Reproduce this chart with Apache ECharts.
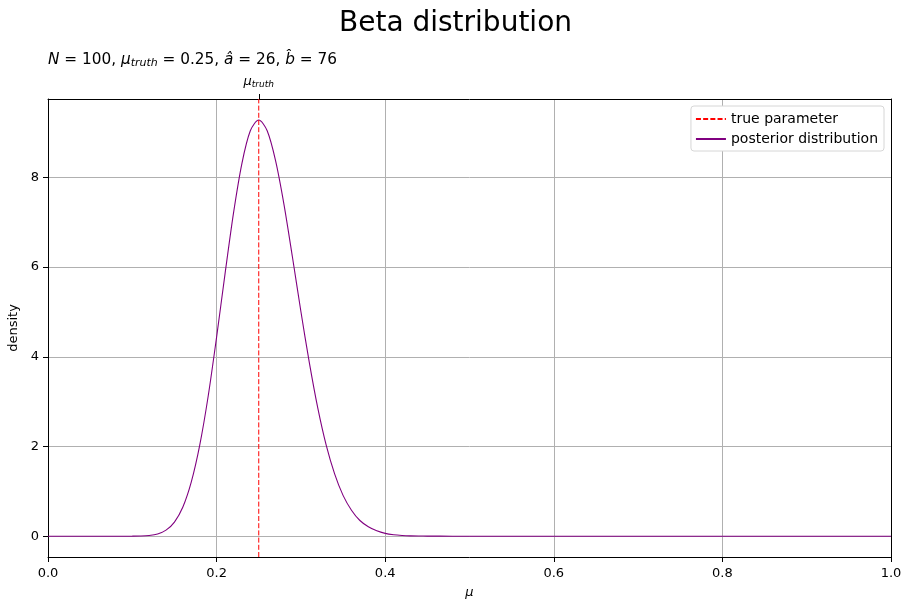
<!DOCTYPE html>
<html>
<head>
<meta charset="utf-8">
<script src="https://cdn.jsdelivr.net/npm/echarts@6/dist/echarts.min.js"></script>
<style>
  html, body { margin: 0; padding: 0; background: #fff; }
  #chart { width: 911px; height: 611px; }
</style>
</head>
<body>
<div id="chart"></div>
<script>
// values
var muValues = [0, 0.05, 0.08, 0.10, 0.11, 0.12, 0.13, 0.14, 0.15, 0.16, 0.17, 0.18, 0.19,
  0.20, 0.21, 0.22, 0.23, 0.24, 0.25, 0.26, 0.27, 0.28, 0.29, 0.30, 0.31, 0.32, 0.33,
  0.34, 0.35, 0.36, 0.37, 0.38, 0.39, 0.40, 0.41, 0.42, 0.43, 0.44, 0.45, 0.48, 0.52,
  0.6, 0.7, 0.8, 0.9, 1.0];
var densityValues = [0, 0, 0, 0.001, 0.004, 0.016, 0.05, 0.135, 0.315, 0.65, 1.21, 2.03, 3.12,
  4.44, 5.85, 7.20, 8.31, 9.04, 9.28, 9.04, 8.37, 7.39, 6.22, 5.01, 3.87, 2.86, 2.03,
  1.39, 0.91, 0.58, 0.35, 0.21, 0.12, 0.063, 0.033, 0.017, 0.008, 0.004, 0.002, 0, 0,
  0, 0, 0, 0, 0];
var muTruth = 0.25;
var yTicks = [0, 2, 4, 6, 8];
var yMin = -0.464;
var yMax = 9.749;

var chart = echarts.init(document.getElementById('chart'));
var font = 'DejaVu Sans';

var curve = muValues.map(function (m, i) { return [m, densityValues[i]]; });
var truthLine = [[muTruth, yMin], [muTruth, yMax]];

chart.setOption({
  animation: false,
  textStyle: { fontFamily: font },
  title: [{
    text: 'Beta distribution',
    left: 'center',
    top: 5,
    textStyle: { fontFamily: font, fontSize: 28, fontWeight: 'normal', color: '#000' }
  }, {
    text: '{i|N} = 100, {i|μ}{s|truth} = 0.25, {i|â} = 26, {i|b̂} = 76',
    left: 43,
    top: 46,
    textStyle: {
      fontFamily: font, fontSize: 15.3, fontWeight: 'normal', color: '#000',
      rich: {
        i: { fontFamily: font, fontSize: 15.3, fontStyle: 'italic', color: '#000' },
        s: { fontFamily: font, fontSize: 11, fontStyle: 'italic', color: '#000', padding: [7, 0, 0, 0] }
      }
    }
  }],
  legend: {
    orient: 'vertical',
    right: 27,
    top: 106,
    padding: [6, 6, 5, 4],
    itemGap: 6,
    itemWidth: 30,
    itemHeight: 10,
    backgroundColor: '#fff',
    borderColor: '#d6d6d6',
    borderWidth: 1,
    borderRadius: 3,
    itemStyle: { opacity: 0 },
    textStyle: { fontFamily: font, fontSize: 14, color: '#000' },
    data: ['true parameter', 'posterior distribution']
  },
  grid: { left: 48, right: 20, top: 99, bottom: 54, outerBoundsMode: 'none', containLabel: false },
  xAxis: [{
    type: 'value',
    min: 0,
    max: 1,
    interval: 0.2,
    name: 'μ',
    nameLocation: 'middle',
    nameGap: 29,
    nameTextStyle: { fontFamily: font, fontSize: 13, fontStyle: 'italic', color: '#000' },
    axisLine: { onZero: false, lineStyle: { color: '#000', width: 1 } },
    axisTick: { inside: false, length: 5, lineStyle: { color: '#000' } },
    axisLabel: {
      color: '#000', fontSize: 13, margin: 10,
      formatter: function (v) { return v.toFixed(1); }
    },
    splitLine: { show: true, lineStyle: { color: '#b0b0b0', width: 1 } }
  }, {
    type: 'value',
    position: 'top',
    min: 0,
    max: 1,
    axisLine: { show: true, onZero: false, lineStyle: { color: '#000', width: 1 } },
    axisTick: { show: true, length: 5, customValues: [muTruth], lineStyle: { color: '#000' } },
    axisLabel: {
      show: true, customValues: [muTruth], margin: 10,
      formatter: function () { return '{i|μ}{s|truth}'; },
      rich: {
        i: { fontFamily: font, fontSize: 13, fontStyle: 'italic', color: '#000' },
        s: { fontFamily: font, fontSize: 9, fontStyle: 'italic', color: '#000', padding: [5, 0, 0, 0] }
      }
    },
    splitLine: { show: false }
  }],
  yAxis: [{
    type: 'value',
    min: yMin,
    max: yMax,
    name: 'density',
    nameLocation: 'middle',
    nameGap: 25,
    nameTextStyle: { fontFamily: font, fontSize: 13, color: '#000' },
    axisLine: { show: true, onZero: false, lineStyle: { color: '#000', width: 1 } },
    axisTick: { show: true, length: 5, customValues: yTicks, lineStyle: { color: '#000' } },
    axisLabel: { color: '#000', fontSize: 13, margin: 9, customValues: yTicks },
    splitLine: { show: true, lineStyle: { color: '#b0b0b0', width: 1 } }
  }, {
    type: 'value',
    position: 'right',
    min: yMin,
    max: yMax,
    axisLine: { show: true, onZero: false, lineStyle: { color: '#000', width: 1 } },
    axisTick: { show: false },
    axisLabel: { show: false },
    splitLine: { show: false }
  }],
  series: [{
    name: 'true parameter',
    type: 'line',
    data: truthLine,
    symbol: 'none',
    color: '#ff0000',
    z: 3,
    lineStyle: { color: '#ff0000', width: 1, type: [5, 2.2] }
  }, {
    name: 'posterior distribution',
    type: 'line',
    data: curve,
    symbol: 'none',
    smooth: 0.3,
    color: '#800080',
    z: 2,
    lineStyle: { color: '#800080', width: 1.1 }
  }]
});
</script>
</body>
</html>
